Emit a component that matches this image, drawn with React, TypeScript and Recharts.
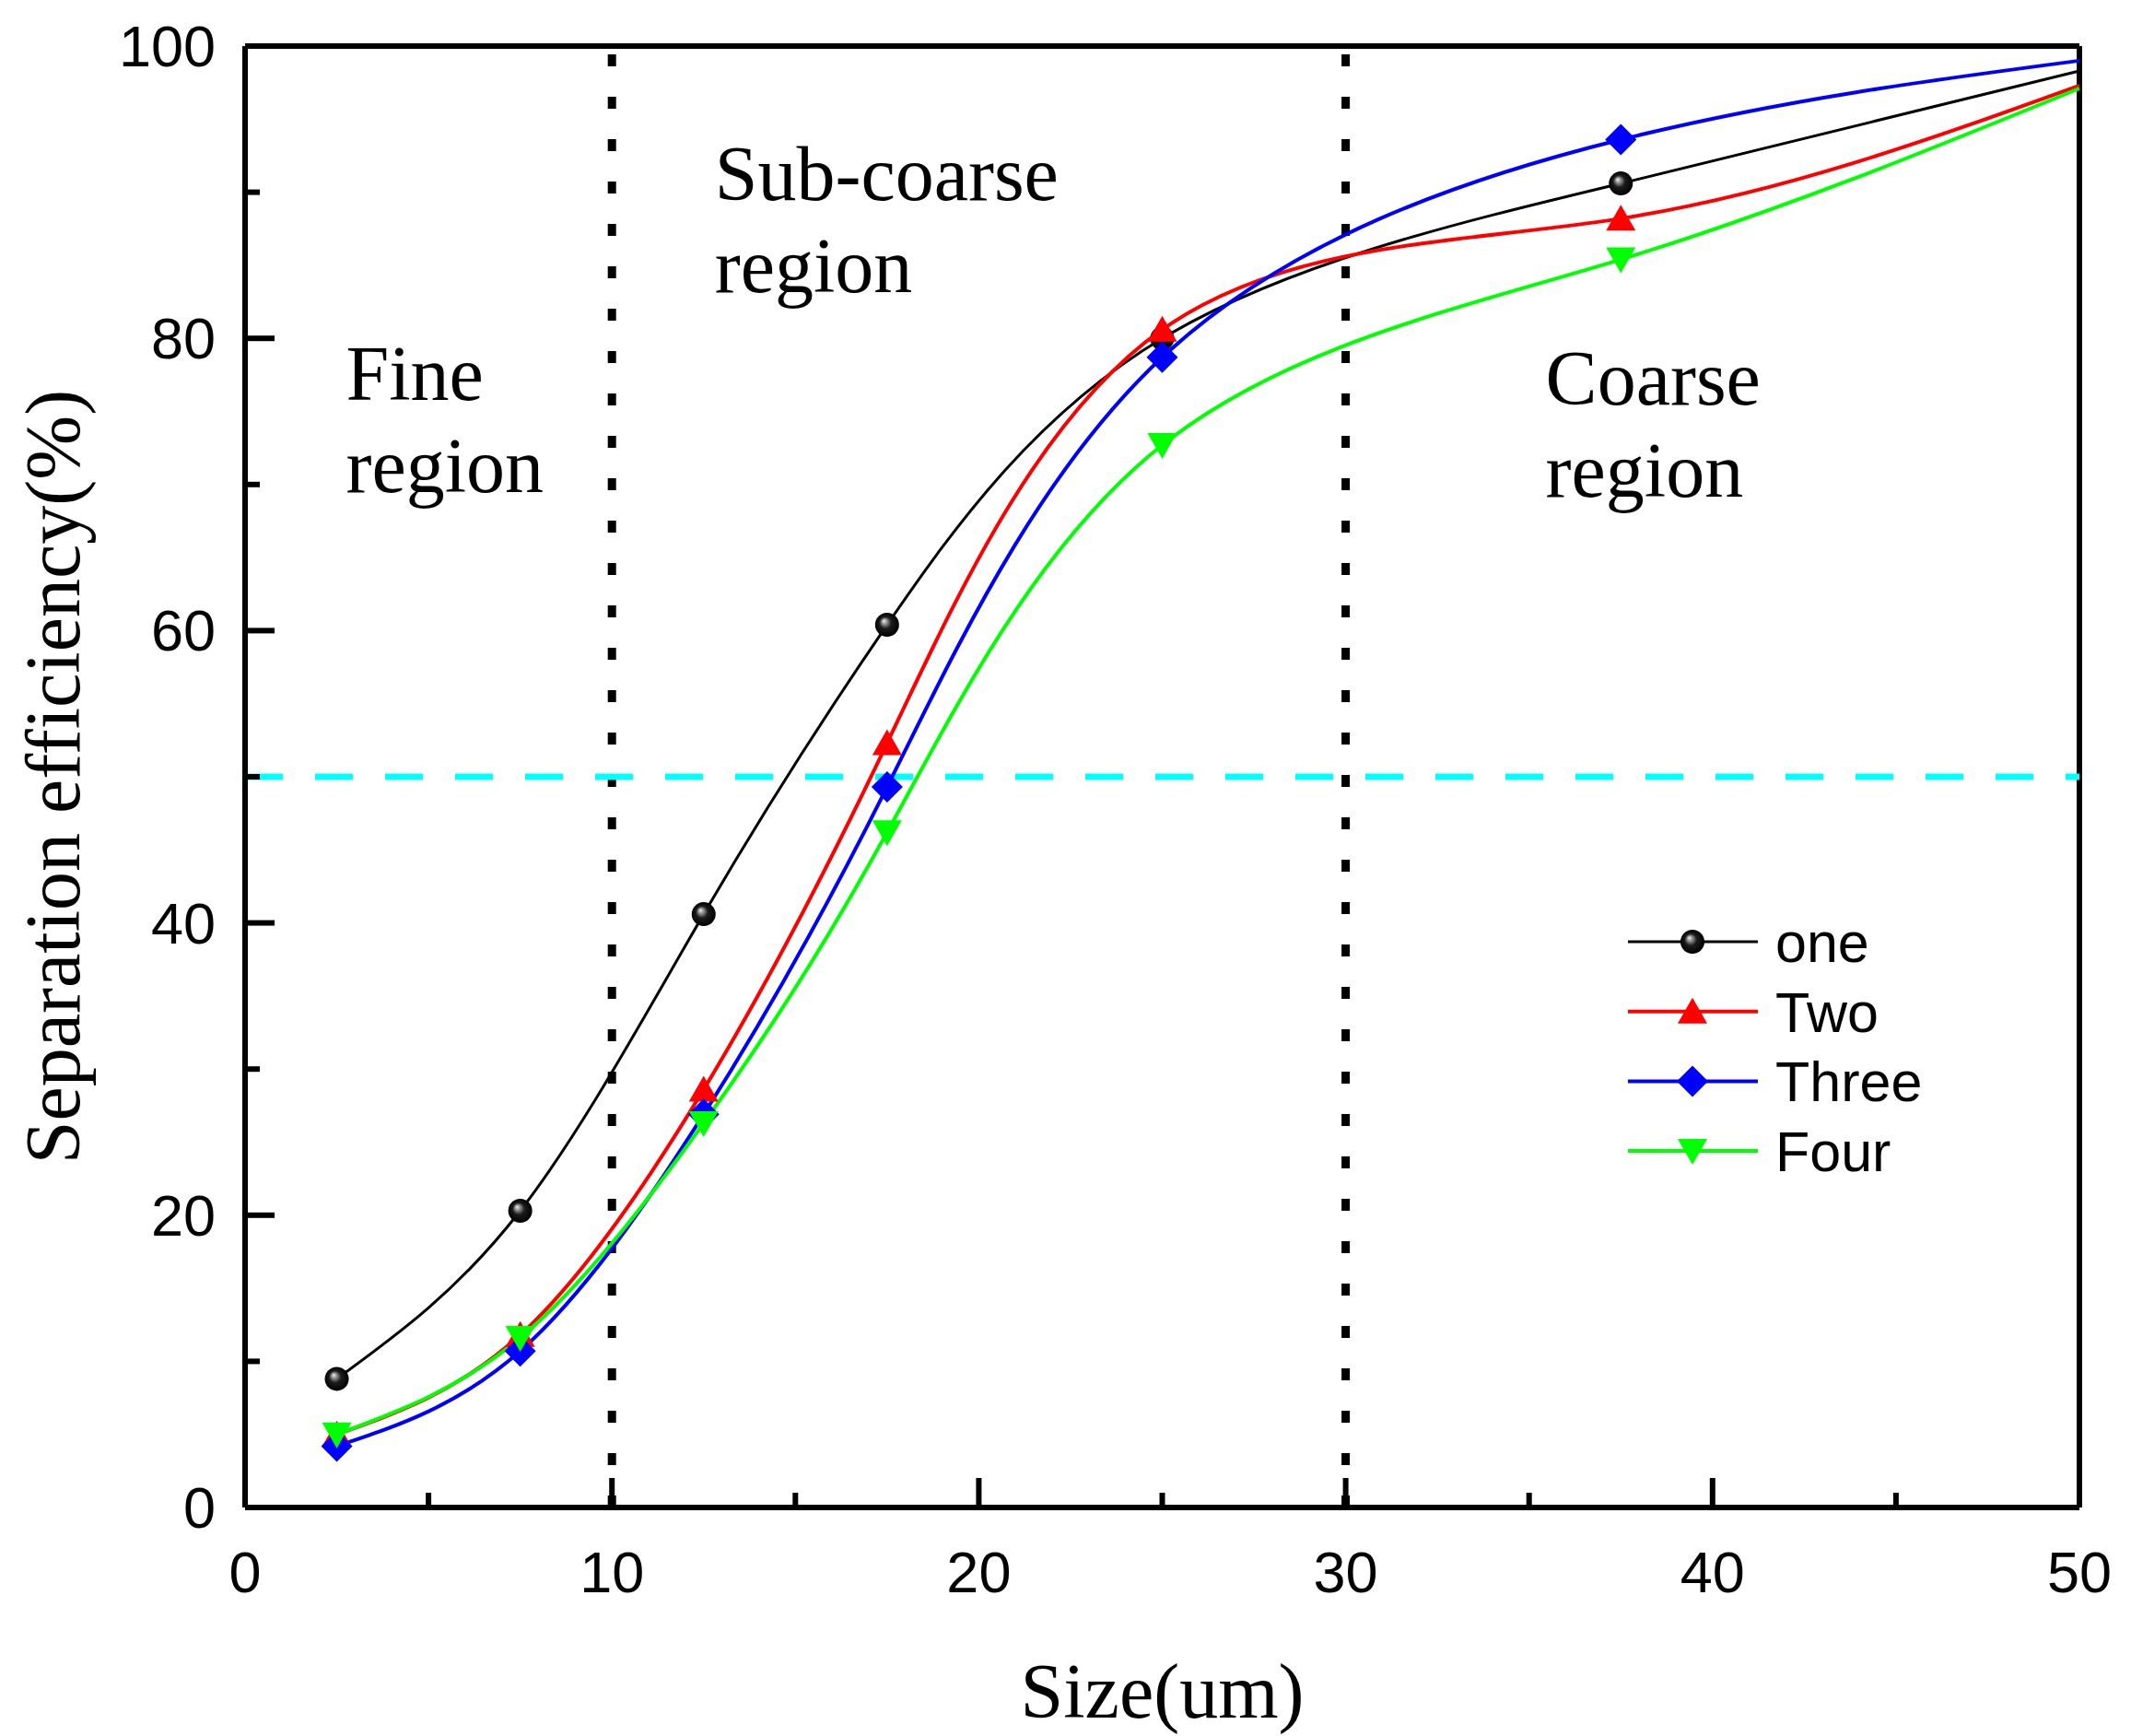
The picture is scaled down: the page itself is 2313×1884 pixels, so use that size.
import React from 'react'
import { LineChart, Line, XAxis, YAxis, ReferenceLine, ReferenceDot, Legend } from 'recharts'

// particle size (um) and separation efficiency (%)
const sizes = [2.5, 7.5, 12.5, 17.5, 25, 37.5, 50]
const effOne = [8.8, 20.3, 40.6, 60.4, 80.0, 90.6, 98.3]
const effTwo = [5.0, 11.8, 28.6, 52.3, 80.6, 88.2, 97.3]
const effThree = [4.2, 10.7, 26.9, 49.3, 78.7, 93.6, 99.0]
const effFour = [5.0, 11.6, 26.3, 46.2, 72.7, 85.4, 97.1]

const seriesKeys = ['one', 'Two', 'Three', 'Four']
const seriesColors = ['#000000', '#FF0000', '#0000FF', '#00FF00']
const seriesShapes = ['sphere', 'triangle', 'diamond', 'invTriangle']
const seriesWidths = [3, 4, 4, 4]

const xTicks = [0, 5, 10, 15, 20, 25, 30, 35, 40, 45, 50]
const yTicks = [0, 10, 20, 30, 40, 50, 60, 70, 80, 90, 100]
const regionBounds = [10, 30]
const cutLine = 50

const regionLabels = [
  { x: 2.75, y: 75.8, lines: ['Fine', 'region'] },
  { x: 12.8, y: 89.5, lines: ['Sub-coarse', 'region'] },
  { x: 35.45, y: 75.5, lines: ['Coarse', 'region'] },
]

const chartData = sizes.map((s, i) => ({
  size: s,
  one: effOne[i],
  Two: effTwo[i],
  Three: effThree[i],
  Four: effFour[i],
}))

const SANS = '"Liberation Sans", Arial, sans-serif'
const SERIF = '"Liberation Serif", "Times New Roman", serif'

function Marker({ shape, cx, cy, color }: any) {
  if (shape === 'sphere') {
    return (
      <g>
        <defs>
          <radialGradient id="sphereGrad" cx="0.5" cy="0.5" r="0.5" fx="0.36" fy="0.33">
            <stop offset="0" stopColor="#f2f2f2" />
            <stop offset="0.2" stopColor="#9a9a9a" />
            <stop offset="0.5" stopColor="#1c1c1c" />
            <stop offset="1" stopColor="#000" />
          </radialGradient>
        </defs>
        <circle cx={cx} cy={cy} r={13} fill="url(#sphereGrad)" />
      </g>
    )
  }
  if (shape === 'triangle') {
    return <polygon points={`${cx},${cy - 15} ${cx + 16},${cy + 13} ${cx - 16},${cy + 13}`} fill={color} />
  }
  if (shape === 'diamond') {
    return <polygon points={`${cx},${cy - 17} ${cx + 17},${cy} ${cx},${cy + 17} ${cx - 17},${cy}`} fill={color} />
  }
  return <polygon points={`${cx - 16},${cy - 13} ${cx + 16},${cy - 13} ${cx},${cy + 15}`} fill={color} />
}

const renderDot = (shape: string, color: string) => (props: any) => {
  const { cx, cy, payload, index } = props
  if (payload.size === 50) return <g key={`d-${shape}-${index}`} />
  return (
    <g key={`d-${shape}-${index}`}>
      <Marker shape={shape} cx={cx} cy={cy} color={color} />
    </g>
  )
}

function XTick({ x, y, payload }: any) {
  const major = payload.value % 10 === 0
  return (
    <g>
      <line x1={x} x2={x} y1={y} y2={y - (major ? 32 : 16)} stroke="#000" strokeWidth={6} />
      {major && (
        <text x={x} y={y + 92} textAnchor="middle" fontFamily={SANS} fontSize={63} fill="#000">
          {payload.value}
        </text>
      )}
    </g>
  )
}

function YTick({ x, y, payload }: any) {
  const major = payload.value % 20 === 0
  return (
    <g>
      <line x1={x} x2={x + (major ? 32 : 16)} y1={y} y2={y} stroke="#000" strokeWidth={6} />
      {major && (
        <text x={x - 32} y={y + 22} textAnchor="end" fontFamily={SANS} fontSize={63} fill="#000">
          {payload.value}
        </text>
      )}
    </g>
  )
}

function XTitle({ viewBox }: any) {
  const vb = viewBox || {}
  return (
    <text x={vb.x + vb.width / 2} y={vb.y + 228} textAnchor="middle" fontFamily={SERIF} fontSize={84} fill="#000">
      Size(um)
    </text>
  )
}

function YTitle({ viewBox }: any) {
  const vb = viewBox || {}
  const cx = vb.x + 78
  const cy = vb.y + vb.height / 2
  return (
    <text
      x={cx}
      y={cy}
      transform={`rotate(-90 ${cx} ${cy})`}
      textAnchor="middle"
      fontFamily={SERIF}
      fontSize={84}
      fill="#000"
    >
      Separation efficiency(%)
    </text>
  )
}

function RegionText({ viewBox, lines }: any) {
  const vb = viewBox || {}
  return (
    <text fontFamily={SERIF} fontSize={84} fill="#000">
      {lines.map((t: string, i: number) => (
        <tspan key={t + i} x={vb.x} y={vb.y + i * 100}>
          {t}
        </tspan>
      ))}
    </text>
  )
}

function LegendBox({ payload }: any) {
  const items = seriesKeys.map((k, i) => {
    const p = (payload || []).find((e: any) => e.value === k || e.dataKey === k)
    return { name: k, color: p?.color || seriesColors[i], shape: seriesShapes[i], width: seriesWidths[i] }
  })
  return (
    <svg width={420} height={360}>
      {items.map((it, i) => {
        const cy = 60 + i * 75.7
        return (
          <g key={it.name}>
            <line x1={0} x2={141} y1={cy} y2={cy} stroke={it.color} strokeWidth={it.width} />
            <Marker shape={it.shape} cx={70} cy={cy} color={it.color} />
            <text x={160} y={cy + 22} fontFamily={SANS} fontSize={61} fill="#000">
              {it.name}
            </text>
          </g>
        )
      })}
    </svg>
  )
}

export default function App() {
  return (
    <div style={{ width: 2305, height: 1876, background: '#fff' }}>
      <LineChart
        width={2305}
        height={1876}
        data={chartData}
        margin={{ top: 42, right: 56, left: 0, bottom: 0 }}
      >
        <XAxis
          type="number"
          dataKey="size"
          domain={[0, 50]}
          ticks={xTicks}
          interval={0}
          tickSize={0}
          tickMargin={0}
          tickLine={false}
          axisLine={{ stroke: '#000', strokeWidth: 6 }}
          tick={<XTick />}
          height={248}
          label={<XTitle />}
        />
        <YAxis
          type="number"
          domain={[0, 100]}
          ticks={yTicks}
          interval={0}
          tickSize={0}
          tickMargin={0}
          tickLine={false}
          axisLine={{ stroke: '#000', strokeWidth: 6 }}
          tick={<YTick />}
          width={258}
          label={<YTitle />}
        />
        <ReferenceLine y={100} stroke="#000" strokeWidth={6} />
        <ReferenceLine x={50} stroke="#000" strokeWidth={6} />
        {regionBounds.map((b) => (
          <ReferenceLine key={b} x={b} stroke="#000" strokeWidth={9} strokeDasharray="13 33" />
        ))}
        <ReferenceLine y={cutLine} stroke="#00FFFF" strokeWidth={7} strokeDasharray="41 35" />
        {regionLabels.map((r) => (
          <ReferenceDot
            key={r.lines[0]}
            x={r.x}
            y={r.y}
            r={0}
            fill="none"
            stroke="none"
            label={<RegionText lines={r.lines} />}
          />
        ))}
        {seriesKeys.map((k, i) => (
          <Line
            key={k}
            type="natural"
            dataKey={k}
            name={k}
            stroke={seriesColors[i]}
            strokeWidth={seriesWidths[i]}
            dot={renderDot(seriesShapes[i], seriesColors[i])}
            activeDot={false}
            isAnimationActive={false}
          />
        ))}
        <Legend
          layout="vertical"
          align="center"
          verticalAlign="middle"
          content={<LegendBox />}
          wrapperStyle={{ position: 'absolute', left: 1759, top: 954, width: 420, height: 360 }}
        />
      </LineChart>
    </div>
  )
}
